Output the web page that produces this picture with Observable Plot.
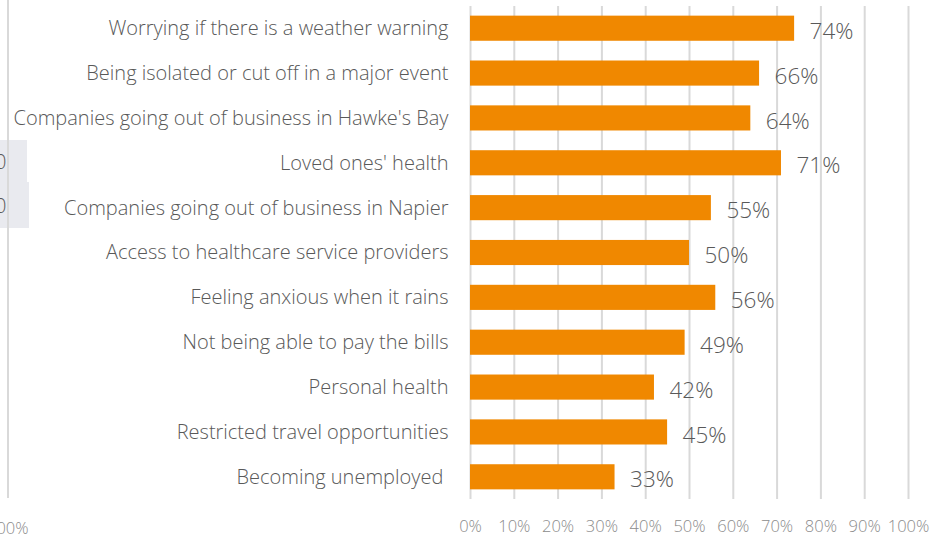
<!DOCTYPE html>
<html><head><meta charset="utf-8">
<script src="https://cdn.jsdelivr.net/npm/d3@7"></script>
<script src="https://cdn.jsdelivr.net/npm/@observablehq/plot@0.6"></script>
<style>
body{margin:0;background:#fff;font-family:"Open Sans",sans-serif;}
#wrap{position:relative;width:943px;height:539px;overflow:hidden;}
.art{position:absolute;}
</style></head>
<body><div id="wrap"></div>
<script>
const categories = [
  "Worrying if there is a weather warning",
  "Being isolated or cut off in a major event",
  "Companies going out of business in Hawke's Bay",
  "Loved ones' health",
  "Companies going out of business in Napier",
  "Access to healthcare service providers",
  "Feeling anxious when it rains",
  "Not being able to pay the bills",
  "Personal health",
  "Restricted travel opportunities",
  "Becoming unemployed "
];
const values = [74, 66, 64, 71, 55, 50, 56, 49, 42, 45, 33];
const xTicks = [0,10,20,30,40,50,60,70,80,90,100];
const data = categories.map((c,i)=>({category:c, value:values[i]}));

const chart = Plot.plot({
  width: 943, height: 539,
  marginLeft: 470, marginRight: 35, marginTop: 6, marginBottom: 40,
  style: {fontFamily: '"Open Sans", sans-serif', background: "transparent"},
  x: {domain: [0,100], ticks: xTicks, grid: false},
  y: {domain: categories, paddingInner: 0.44, paddingOuter: 0.215, round: false, label: null},
  marks: [
    Plot.ruleX(xTicks, {stroke: "#d9d9d9", strokeWidth: 2}),
    Plot.barX(data, {x: "value", y: "category", fill: "#f08800"}),
    Plot.text(data, {x: "value", y: "category", text: d => d.value + "%", dx: 15, dy: 3, textAnchor: "start", fontSize: 22.5, fill: "#595959", fontWeight: 300}),
    Plot.axisX({ticks: xTicks, tickFormat: d => d + "%", tickSize: 0, tickPadding: 21, fontSize: 16.5, color: "#8c8c8c", label: null, fontWeight: 300}),
    Plot.axisY({tickSize: 0, tickPadding: 22, fontSize: 20, color: "#595959", label: null, fontWeight: 300})
  ]
});
const wrap = document.getElementById("wrap");
chart.style.position = "absolute"; chart.style.left = "0"; chart.style.top = "0";
// partial neighbouring chart fragments at the left edge
wrap.insertAdjacentHTML("beforeend",
  '<div class="art" style="left:0;top:140px;width:27px;height:42px;background:#e9eaef"></div>' +
  '<div class="art" style="left:0;top:182px;width:29px;height:46px;background:#e9eaef"></div>' +
  '<div class="art" style="left:7px;top:0;width:2px;height:498px;background:#d9d9d9"></div>' +
  '<div class="art" style="left:-5px;top:148px;font-size:20px;color:#595959;font-weight:300">0</div>' +
  '<div class="art" style="left:-5px;top:192px;font-size:20px;color:#595959;font-weight:300">0</div>' +
  '<div class="art" style="left:-13px;top:516px;font-size:16.5px;color:#8c8c8c;font-weight:300">100%</div>');
wrap.appendChild(chart);
</script></body></html>
